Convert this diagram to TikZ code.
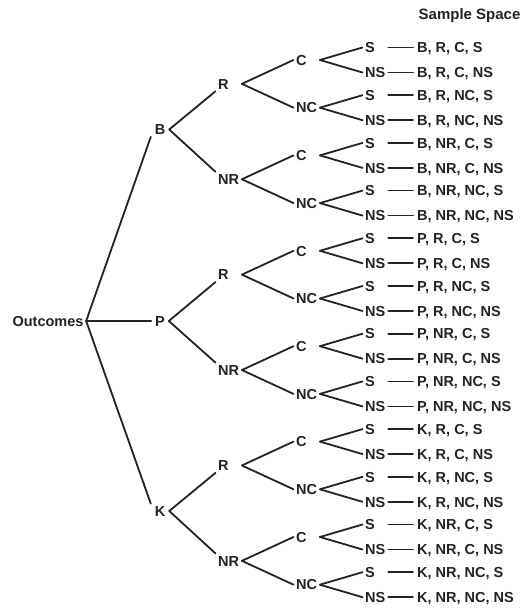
\documentclass[tikz,border=0pt]{standalone}
\usepackage{fontspec}
\setmainfont{Liberation Sans}
\definecolor{ink}{HTML}{232323}
\begin{document}
\begin{tikzpicture}[x=1pt,y=-1pt,
  every node/.style={font=\bfseries\fontsize{14.5}{16}\selectfont, text=ink,
    inner xsep=2.5pt, inner ysep=2pt, text height=10.4pt, text depth=0pt},
  branch/.style={draw=ink, line width=1.8pt, line cap=round},
  firstlvl/.style={inner xsep=3.8pt},
  pairlvl/.style={anchor=west, text width=21pt, align=left},
  leaflvl/.style={anchor=west, text width=20.3pt, align=left},
  result/.style={anchor=west, inner xsep=4pt},
  heading/.style={anchor=west, font=\bfseries\fontsize{15}{17}\selectfont}]
\useasboundingbox[fill=white] (0,0) rectangle (526,609);

\node[heading] (head) at (416,14) {Sample Space};
\node (o) at (48,321) {Outcomes};

% three levels of branching, then the sample-space entries
\foreach \A/\ay [count=\i] in {B/129.5,P/321,K/511} {
  \node[firstlvl] (a\i) at (160,\ay) {\A};
  \foreach \R [count=\j from 0] in {R,NR} {
    \pgfmathsetmacro\ry{60+47.7*(4*(\i-1)+2*\j)+23.85}
    \node[pairlvl] (r\i\j) at (215.5,\ry) {\R};
    \foreach \C [count=\k from 0] in {C,NC} {
      \pgfmathsetmacro\cy{60+47.7*(4*(\i-1)+2*\j+\k)}
      \node[pairlvl] (c\i\j\k) at (293.5,\cy) {\C};
      \draw[branch] (r\i\j.east) -- (c\i\j\k.west);
      \foreach \S [count=\m from 0] in {S,NS} {
        \pgfmathsetmacro\sy{\cy+25*\m-12.5}
        \node[leaflvl] (l\i\j\k\m) at (362.5,\sy) {\S};
        \node[result] (s\i\j\k\m) at (413,\sy) {\A, \R, \C, \S};
        \draw[branch] (c\i\j\k.east) -- (l\i\j\k\m.west);
        \draw[branch] (l\i\j\k\m.east) -- (s\i\j\k\m.west);
      }
    }
  }
  \draw[branch] (a\i.east) -- (r\i0.south west);
  \draw[branch] (a\i.east) -- (r\i1.north west);
}

\draw[branch] (o.east) -- (a1.south west);
\draw[branch] (o.east) -- (a2.west);
\draw[branch] (o.east) -- (a3.north west);
\end{tikzpicture}
\end{document}
